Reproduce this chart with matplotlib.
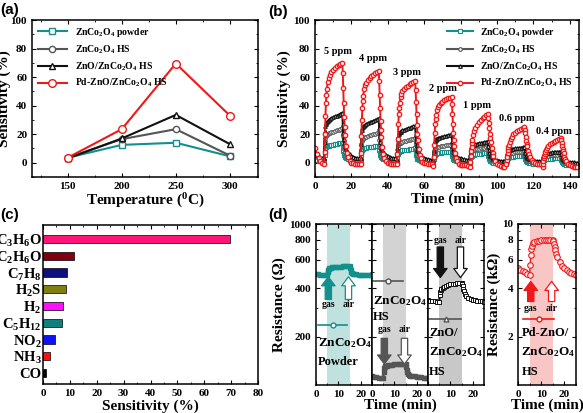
import matplotlib.pyplot as plt
from matplotlib.ticker import MultipleLocator, NullFormatter, NullLocator

# ---------------- data ----------------
# (a) sensitivity vs temperature
temps = [150, 200, 250, 300]
sens_powder = [3.5, 12.5, 14, 4.5]
sens_hs = [3.5, 16.5, 23.5, 5]
sens_zno = [3, 17, 33.5, 13]
sens_pd = [3.5, 23.5, 69.5, 33]

# (b) dynamic response, 7 pulses (gas on at 5+20k, off at 15+20k)
ppm_labels = ["5 ppm", "4 ppm", "3 ppm", "2 ppm", "1 ppm", "0.6 ppm", "0.4 ppm"]
peak_pd = [70, 64, 57, 46, 34, 25, 17]
peak_zno = [35, 31, 26, 20, 15, 11, 8]
peak_hs = [24, 21, 17, 13, 11, 8, 6]
peak_powder = [14, 12, 10, 8, 7, 5, 3.5]
base_pd = [-1, -1, -1, -2, -3, -1, -3]
base_zno = [3, 3, 2, 2, 1, 1, 0]
base_hs = [2, 2, 1, 1, 0, 0, -1]
base_powder = [1, 1, 0, 0, -1, -1, -2]
# first 5 minutes (t = 0..4)
t_start = [0, 1, 2, 3, 4]
start_pd = [10, 6, 3, 1, 0]
start_zno = [7, 5.5, 4.5, 3.5, 3]
start_hs = [5, 4, 3, 2.5, 2]
start_powder = [3, 2, 1.5, 1, 1]
# pulse shapes (fraction of peak), offsets from gas on
r_off = [0, 0.25, 0.5, 0.75, 1, 1.25, 1.5, 2, 2.5, 3, 4, 5, 6, 7, 8, 9, 10,
         10.25, 10.5, 10.75, 11, 11.25, 11.5, 12, 12.5, 13, 14, 15, 16, 17, 18, 19]
shape_fast = [0, 0.12, 0.3, 0.48, 0.6, 0.68, 0.74, 0.81, 0.85, 0.88, 0.91, 0.93,
              0.95, 0.965, 0.98, 0.99, 1.0,
              0.9, 0.75, 0.6, 0.47, 0.37, 0.29, 0.18, 0.11, 0.07, 0.03, 0.015,
              0.008, 0.004, 0.002, 0]
shape_slow = [0, 0.1, 0.2, 0.3, 0.38, 0.45, 0.52, 0.6, 0.68, 0.74, 0.8, 0.85,
              0.89, 0.92, 0.95, 0.98, 1.0,
              0.93, 0.83, 0.73, 0.63, 0.55, 0.48, 0.36, 0.27, 0.2, 0.11, 0.06,
              0.03, 0.015, 0.005, 0]
shape_step = [0, 0.35, 0.6, 0.7, 0.75, 0.78, 0.8, 0.82, 0.84, 0.86, 0.88, 0.9,
              0.92, 0.94, 0.96, 0.98, 1.0,
              0.75, 0.55, 0.42, 0.34, 0.29, 0.25, 0.2, 0.16, 0.13, 0.09, 0.06,
              0.04, 0.02, 0.01, 0]
pd_shapes = [shape_fast] * 4 + [shape_slow] * 3

# (c) selectivity
gases = ["CO", "NH$_3$", "NO$_2$", "C$_5$H$_{12}$", "H$_2$", "H$_2$S",
         "C$_7$H$_8$", "C$_2$H$_6$O", "C$_3$H$_6$O"]
gas_sens = [1, 2.5, 4.5, 7, 7.5, 8.5, 9, 11.5, 69.5]
gas_colors = ["#000000", "#ff1010", "#1010ff", "#10807f", "#ff10ff",
              "#808010", "#10107f", "#800010", "#ff1477"]

# (d) resistance transients
t_d = [0, 1, 2, 3, 4, 5, 5.25, 5.5, 5.75, 6, 6.5, 7, 8, 9, 10, 11, 12, 13, 14,
       15, 15.25, 15.5, 15.75, 16, 16.5, 17, 18, 19, 20, 21, 22, 23, 24, 25]
r_powder = [490, 487, 485, 483, 481, 480, 505, 520, 528, 532, 536, 538, 540,
            542, 543, 544, 545, 545, 546, 546, 530, 515, 505, 498, 492, 489,
            486, 484, 483, 482, 481, 480, 480, 479]
r_hs = [113, 112, 112, 111, 111, 111, 120, 127, 130, 131, 132, 133, 134, 134,
        135, 135, 135, 136, 136, 136, 130, 124, 120, 117, 115, 114, 113, 113,
        112, 112, 112, 111, 111, 111]
r_zno = [335, 333, 332, 331, 330, 330, 360, 380, 390, 396, 403, 408, 414, 418,
         422, 425, 427, 429, 431, 432, 425, 410, 395, 383, 368, 358, 347, 341,
         337, 335, 333, 332, 331, 330]
r_pd = [5.3, 5.2, 5.1, 5.0, 4.9, 4.8, 5.6, 6.4, 7.0, 7.3, 7.6, 7.7, 7.8, 7.85,
        7.9, 7.92, 7.95, 7.97, 8.0, 8.0, 7.8, 7.5, 7.2, 6.9, 6.5, 6.2, 5.8, 5.5,
        5.3, 5.15, 5.05, 4.95, 4.9, 4.85]

C_TEAL = "#138f8c"
C_GRAY = "#555555"
C_BLACK = "#111111"
C_RED = "#f01818"

plt.rcParams['font.family'] = ['Liberation Serif', 'DejaVu Serif']
plt.rcParams['font.weight'] = 'bold'
plt.rcParams['axes.labelweight'] = 'bold'
plt.rcParams['mathtext.fontset'] = 'custom'
plt.rcParams['mathtext.rm'] = 'Liberation Serif:bold'
plt.rcParams['mathtext.it'] = 'Liberation Serif:italic:bold'
plt.rcParams['mathtext.bf'] = 'Liberation Serif:bold'
plt.rcParams['xtick.direction'] = 'in'
plt.rcParams['ytick.direction'] = 'in'
plt.rcParams['xtick.top'] = True
plt.rcParams['ytick.right'] = True
plt.rcParams['axes.linewidth'] = 1.1
plt.rcParams['xtick.labelsize'] = 8
plt.rcParams['ytick.labelsize'] = 8
plt.rcParams['xtick.major.size'] = 3
plt.rcParams['ytick.major.size'] = 3
plt.rcParams['xtick.minor.size'] = 1.6
plt.rcParams['ytick.minor.size'] = 1.6

W, H = 583, 413
fig = plt.figure(figsize=(W / 100, H / 100), dpi=100)


def px_axes(x0, y0, x1, y1):
    return fig.add_axes([x0 / W, 1 - y1 / H, (x1 - x0) / W, (y1 - y0) / H])


def panel_label(x, y, s):
    fig.text(x / W, 1 - y / H, s, family='Liberation Sans', weight='bold',
             fontsize=11, ha='left', va='center')


labels = ["ZnCo$_2$O$_4$ powder", "ZnCo$_2$O$_4$ HS",
          "ZnO/ZnCo$_2$O$_4$ HS", "Pd-ZnO/ZnCo$_2$O$_4$ HS"]

# ---------------- (a) ----------------
ax = px_axes(32, 20, 258, 177)
ax.plot(temps, sens_powder, color=C_TEAL, lw=1.5, marker='s', ms=4.5, mfc='white', label=labels[0])
ax.plot(temps, sens_hs, color=C_GRAY, lw=1.5, marker='o', ms=4.5, mfc='white', label=labels[1])
ax.plot(temps, sens_zno, color=C_BLACK, lw=1.5, marker='^', ms=4.5, mfc='white', label=labels[2])
ax.plot(temps, sens_pd, color=C_RED, lw=1.5, marker='o', ms=5.5, mfc='white', label=labels[3])
ax.set_xlim(117, 326)
ax.set_ylim(-10, 100)
ax.xaxis.set_major_locator(MultipleLocator(50))
ax.xaxis.set_minor_locator(MultipleLocator(25))
ax.yaxis.set_major_locator(MultipleLocator(20))
ax.yaxis.set_minor_locator(MultipleLocator(10))
ax.set_xlabel("Temperature ($^0$C)", fontsize=11, labelpad=1)
ax.set_ylabel("Sensitivity (%)", fontsize=11, labelpad=0)
ax.legend(loc='upper left', fontsize=7, frameon=False, handlelength=3,
          labelspacing=0.45, borderaxespad=0.2, numpoints=1)
panel_label(0, 10, "(a)")

# ---------------- (b) ----------------
def build(start_vals, bases, peaks, shapes):
    t = list(t_start)
    v = list(start_vals)
    for k in range(len(peaks)):
        for r, f in zip(r_off, shapes[k]):
            t.append(5 + 20 * k + r)
            v.append(bases[k] + f * (peaks[k] - bases[k]))
    return t, v


ax = px_axes(315, 20, 579, 177)
tt, vv = build(start_powder, base_powder, peak_powder, [shape_step] * 7)
ax.plot(tt, vv, color=C_TEAL, lw=1.5, marker='s', ms=2.6, mfc='white', mew=0.8, label=labels[0])
tt, vv = build(start_hs, base_hs, peak_hs, [shape_step] * 7)
ax.plot(tt, vv, color=C_GRAY, lw=1.5, marker='o', ms=2.6, mfc='white', mew=0.8, label=labels[1])
tt, vv = build(start_zno, base_zno, peak_zno, [shape_step] * 7)
ax.plot(tt, vv, color=C_BLACK, lw=1.5, marker='^', ms=2.6, mfc='white', mew=0.8, label=labels[2])
tt, vv = build(start_pd, base_pd, peak_pd, pd_shapes)
ax.plot(tt, vv, color=C_RED, lw=1.4, marker='o', ms=3.2, mfc='#ffe4e4', mew=0.9, label=labels[3])
ax.set_xlim(0, 145)
ax.set_ylim(-10, 100)
ax.xaxis.set_major_locator(MultipleLocator(20))
ax.xaxis.set_minor_locator(MultipleLocator(10))
ax.yaxis.set_major_locator(MultipleLocator(20))
ax.yaxis.set_minor_locator(MultipleLocator(10))
ax.set_xlabel("Time (min)", fontsize=11, labelpad=1)
ax.set_ylabel("Sensitivity (%)", fontsize=11, labelpad=2)
ax.legend(loc='upper right', fontsize=7, frameon=False, handlelength=2.6,
          labelspacing=0.45, borderaxespad=0.2, numpoints=1)
for (x, y), s in zip([(12.6, 78), (32, 73), (50.5, 63), (70, 52), (89, 40),
                      (111, 31), (131, 22)], ppm_labels):
    ax.text(x, y, s, fontsize=7.5, ha='center', va='center')
panel_label(268, 12, "(b)")

# ---------------- (c) ----------------
ax = px_axes(43, 225, 258, 384)
ax.barh(range(len(gases)), gas_sens, height=0.5, color=gas_colors,
        edgecolor='black', linewidth=0.5)
ax.set_yticks(range(len(gases)))
ax.set_yticklabels(gases, fontsize=10.5)
ax.tick_params(axis='y', length=0, pad=1)
ax.yaxis.set_minor_locator(NullLocator())
ax.set_xlim(0, 80)
ax.set_ylim(-0.66, 8.84)
ax.xaxis.set_major_locator(MultipleLocator(10))
ax.xaxis.set_minor_locator(MultipleLocator(5))
ax.set_xlabel("Sensitivity (%)", fontsize=11, labelpad=1)
panel_label(0, 215, "(c)")

# ---------------- (d) ----------------
def arrow(ax, x, y0, y1, color, filled):
    ax.annotate('', xy=(x, y1), xytext=(x, y0),
                arrowprops=dict(arrowstyle='simple,head_length=0.5,head_width=0.75,tail_width=0.35',
                                fc=color if filled else 'white', ec=color, lw=0.9,
                                shrinkA=0, shrinkB=0, mutation_scale=13))


def setup_d(ax, ylim, ticks, show_labels):
    ax.set_yscale('log')
    ax.set_xlim(0, 25)
    ax.set_ylim(*ylim)
    ax.xaxis.set_major_locator(MultipleLocator(10))
    ax.xaxis.set_minor_locator(MultipleLocator(5))
    ax.set_yticks(ticks)
    ax.yaxis.set_minor_formatter(NullFormatter())
    if show_labels:
        ax.set_yticklabels([str(t) for t in ticks])
    else:
        ax.set_yticklabels([])


d_axes = []
for x0, x1 in [(316, 372), (372, 428), (428, 484)]:
    d_axes.append(px_axes(x0, 224, x1, 385))
ax4 = px_axes(518, 224, 576, 385)

# powder
ax = d_axes[0]
setup_d(ax, (100, 1000), [200, 400, 600, 800, 1000], True)
ax.axvspan(5, 15, color='#bfe2de', lw=0)
ax.plot(t_d, r_powder, color=C_TEAL, lw=1.8, marker='s', ms=2.6)
ax.plot([1, 14], [235, 235], color=C_TEAL, lw=1.2)
ax.plot([7.5], [235], color=C_TEAL, marker='o', ms=3.5, mfc='white')
arrow(ax, 5.5, 340, 470, C_TEAL, True)
arrow(ax, 14.5, 340, 470, C_TEAL, False)
ax.text(5.5, 316, "gas", fontsize=7, ha='center', va='center')
ax.text(14.5, 316, "air", fontsize=7, ha='center', va='center')
ax.text(0.8, 183, "ZnCo$_2$O$_4$", fontsize=9.5, ha='left', va='center')
ax.text(0.8, 138, "Powder", fontsize=9, ha='left', va='center')
ax.set_ylabel("Resistance (Ω)", fontsize=11, labelpad=2)

# HS
ax = d_axes[1]
setup_d(ax, (100, 1000), [200, 400, 600, 800, 1000], False)
ax.axvspan(5, 15, color='#d3d3d3', lw=0)
ax.plot(t_d, r_hs, color=C_GRAY, lw=1.8, marker='s', ms=2.6)
ax.plot([0.5, 14], [444, 444], color=C_GRAY, lw=1.2)
ax.plot([7], [444], color=C_GRAY, marker='o', ms=3.5, mfc='white')
arrow(ax, 5.5, 195, 135, C_GRAY, True)
arrow(ax, 14.5, 195, 135, C_GRAY, False)
ax.text(5.5, 220, "gas", fontsize=7, ha='center', va='center')
ax.text(14.5, 220, "air", fontsize=7, ha='center', va='center')
ax.text(0.5, 333, "ZnCo$_2$O$_4$", fontsize=9.5, ha='left', va='center')
ax.text(0.5, 265, "HS", fontsize=9, ha='left', va='center')

# ZnO/ZnCo2O4 HS
ax = d_axes[2]
setup_d(ax, (100, 1000), [200, 400, 600, 800, 1000], False)
ax.axvspan(5, 15, color='#c8c8c8', lw=0)
ax.plot(t_d, r_zno, color=C_BLACK, lw=1.6, marker='s', ms=2.6, mfc='white', mew=0.7)
ax.plot([0.5, 14.8], [258, 258], color=C_GRAY, lw=1.2)
ax.plot([8], [258], color=C_GRAY, marker='^', ms=3.5, mfc='white')
arrow(ax, 5.5, 720, 465, C_BLACK, True)
arrow(ax, 14.5, 720, 465, C_BLACK, False)
ax.text(5.5, 785, "gas", fontsize=7, ha='center', va='center')
ax.text(14.5, 785, "air", fontsize=7, ha='center', va='center')
ax.text(0.5, 211, "ZnO/", fontsize=9, ha='left', va='center')
ax.text(0.5, 159, "ZnCo$_2$O$_4$", fontsize=9.5, ha='left', va='center')
ax.text(0.5, 121, "HS", fontsize=9, ha='left', va='center')

# Pd-ZnO/ZnCo2O4 HS
ax = ax4
setup_d(ax, (1, 10), [2, 4, 6, 8, 10], True)
ax.axvspan(5, 15, color='#f9c6c6', lw=0)
ax.plot(t_d, r_pd, color=C_RED, lw=1.0, marker='o', ms=4, mfc='#ffeaea', mew=0.8)
ax.plot([2.2, 15.6], [2.58, 2.58], color=C_RED, lw=1.2)
ax.plot([9], [2.58], color=C_RED, marker='o', ms=3.5, mfc='white')
arrow(ax, 5.5, 3.3, 4.4, C_RED, True)
arrow(ax, 14.5, 3.3, 4.4, C_RED, False)
ax.text(5.5, 2.98, "gas", fontsize=7, ha='center', va='center')
ax.text(14.5, 2.98, "air", fontsize=7, ha='center', va='center')
ax.text(1.5, 2.11, "Pd-ZnO/", fontsize=9, ha='left', va='center')
ax.text(1.5, 1.59, "ZnCo$_2$O$_4$", fontsize=9.5, ha='left', va='center')
ax.text(1.5, 1.21, "HS", fontsize=9, ha='left', va='center')
ax.set_ylabel("Resistance (kΩ)", fontsize=11, labelpad=1)

fig.text(400 / W, 1 - 405 / H, "Time (min)", fontsize=11, weight='bold', ha='center', va='center')
fig.text(547 / W, 1 - 405 / H, "Time (min)", fontsize=11, weight='bold', ha='center', va='center')
panel_label(268, 215, "(d)")

fig.savefig("out.png", dpi=100)
